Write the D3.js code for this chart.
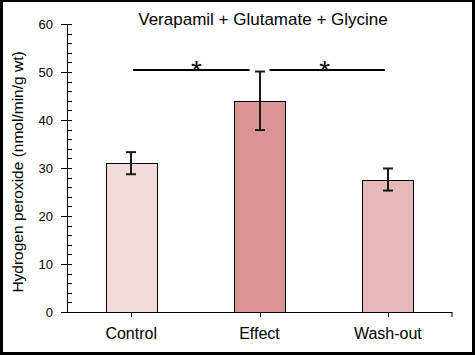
<!DOCTYPE html>
<html><head><meta charset="utf-8">
<script src="https://cdn.jsdelivr.net/npm/d3@7"></script>
<style>body{margin:0;background:#fff}svg{display:block}</style>
</head><body>
<script>
const categories = ["Control", "Effect", "Wash-out"];
const values = [31.0, 44.0, 27.6];
const errors = [2.3, 6.1, 2.3];
const colors = ["#f2dcdb", "#d99694", "#e6b9b8"];
const yTicks = [0, 10, 20, 30, 40, 50, 60];
const sigPairs = [["Control", "Effect"], ["Effect", "Wash-out"]];
const sigLevel = 50.4;
const title = "Verapamil + Glutamate + Glycine";
const yLabel = "Hydrogen peroxide (nmol/min/g wt)";

const W = 475, H = 355;
const font = "'Liberation Sans', Arial, sans-serif";
const svg = d3.select("body").append("svg").attr("width", W).attr("height", H);
svg.append("rect").attr("width", W).attr("height", H).attr("fill", "#fff");

const x = d3.scaleBand().domain(categories).range([67, 452]).padding(0);
const y = d3.scaleLinear().domain([0, 60]).range([312, 24]);
const cx = c => x(c) + x.bandwidth() / 2;
const bw = x.bandwidth() * 0.4;

// bars
svg.selectAll("rect.bar").data(categories).enter().append("rect")
  .attr("x", c => Math.round(cx(c) - bw / 2) + 0.5)
  .attr("y", (c, i) => Math.round(y(values[i])) + 0.5)
  .attr("width", Math.round(bw))
  .attr("height", (c, i) => Math.round(y(0)) - Math.round(y(values[i])))
  .attr("fill", (c, i) => colors[i])
  .attr("stroke", "#000").attr("stroke-width", 1);

// error bars
const eb = svg.append("g").attr("stroke", "#1a1a1a").attr("stroke-width", 2);
categories.forEach((c, i) => {
  const xc = Math.round(cx(c));
  const y1 = y(values[i] + errors[i]), y2 = y(values[i] - errors[i]);
  eb.append("line").attr("x1", xc).attr("x2", xc).attr("y1", y1).attr("y2", y2);
  eb.append("line").attr("x1", xc - 5).attr("x2", xc + 5).attr("y1", y1).attr("y2", y1);
  eb.append("line").attr("x1", xc - 5).attr("x2", xc + 5).attr("y1", y2).attr("y2", y2);
});

// y axis
const ax = svg.append("g").attr("stroke", "#000").attr("stroke-width", 1);
ax.append("line").attr("x1", 67.5).attr("x2", 67.5).attr("y1", y(60)).attr("y2", y(0) + 0.5);
d3.range(0, 61, 2).forEach(v => {
  const yy = Math.round(y(v)) + 0.5;
  if (v % 10 === 0) ax.append("line").attr("x1", 61).attr("x2", 72).attr("y1", yy).attr("y2", yy);
  else ax.append("line").attr("x1", 67).attr("x2", 72).attr("y1", yy).attr("y2", yy);
});
svg.append("g").selectAll("text").data(yTicks).enter().append("text")
  .attr("x", 53).attr("y", d => y(d) + 4.5)
  .attr("text-anchor", "end").attr("font-family", font).attr("font-size", 13).attr("fill", "#000")
  .text(d => d);

// x axis
ax.append("line").attr("x1", 67).attr("x2", 452.5).attr("y1", Math.round(y(0)) + 0.5).attr("y2", Math.round(y(0)) + 0.5);
categories.forEach(c => {
  const xc = Math.round(cx(c)) + 0.5;
  ax.append("line").attr("x1", xc).attr("x2", xc).attr("y1", y(0)).attr("y2", y(0) + 5);
});
ax.append("line").attr("x1", 452).attr("x2", 452).attr("y1", y(0)).attr("y2", y(0) + 5);
svg.append("g").selectAll("text").data(categories).enter().append("text")
  .attr("x", c => cx(c)).attr("y", 339)
  .attr("text-anchor", "middle").attr("font-family", font).attr("font-size", 16).attr("fill", "#000")
  .text(c => c);

// significance
const sg = svg.append("g");
sigPairs.forEach((p, k) => {
  const x1 = cx(p[0]) + (k === 0 ? 2 : 10);
  const x2 = cx(p[1]) - (k === 0 ? 10 : 3);
  const yy = Math.round(y(sigLevel));
  sg.append("line").attr("x1", x1).attr("x2", x2).attr("y1", yy).attr("y2", yy)
    .attr("stroke", "#000").attr("stroke-width", 2);
  sg.append("text").attr("x", (cx(p[0]) + cx(p[1])) / 2 + 1).attr("y", yy + 10)
    .attr("text-anchor", "middle").attr("font-family", font).attr("font-size", 28).attr("fill", "#000")
    .text("*");
});

// title
svg.append("text").attr("x", 263).attr("y", 25).attr("text-anchor", "middle")
  .attr("font-family", font).attr("font-size", 17).attr("fill", "#000").text(title);

// y label
svg.append("text").attr("transform", "translate(23,172) rotate(-90)").attr("text-anchor", "middle")
  .attr("font-family", font).attr("font-size", 15.5).attr("fill", "#000").text(yLabel);

// frame
svg.append("rect").attr("x", 0).attr("y", 0).attr("width", 3).attr("height", H).attr("fill", "#000");
svg.append("rect").attr("x", 0).attr("y", 0).attr("width", W).attr("height", 2).attr("fill", "#000");
svg.append("rect").attr("x", W - 3).attr("y", 0).attr("width", 3).attr("height", H).attr("fill", "#000");
svg.append("rect").attr("x", 0).attr("y", H - 3).attr("width", W).attr("height", 3).attr("fill", "#000");
</script>
</body></html>
